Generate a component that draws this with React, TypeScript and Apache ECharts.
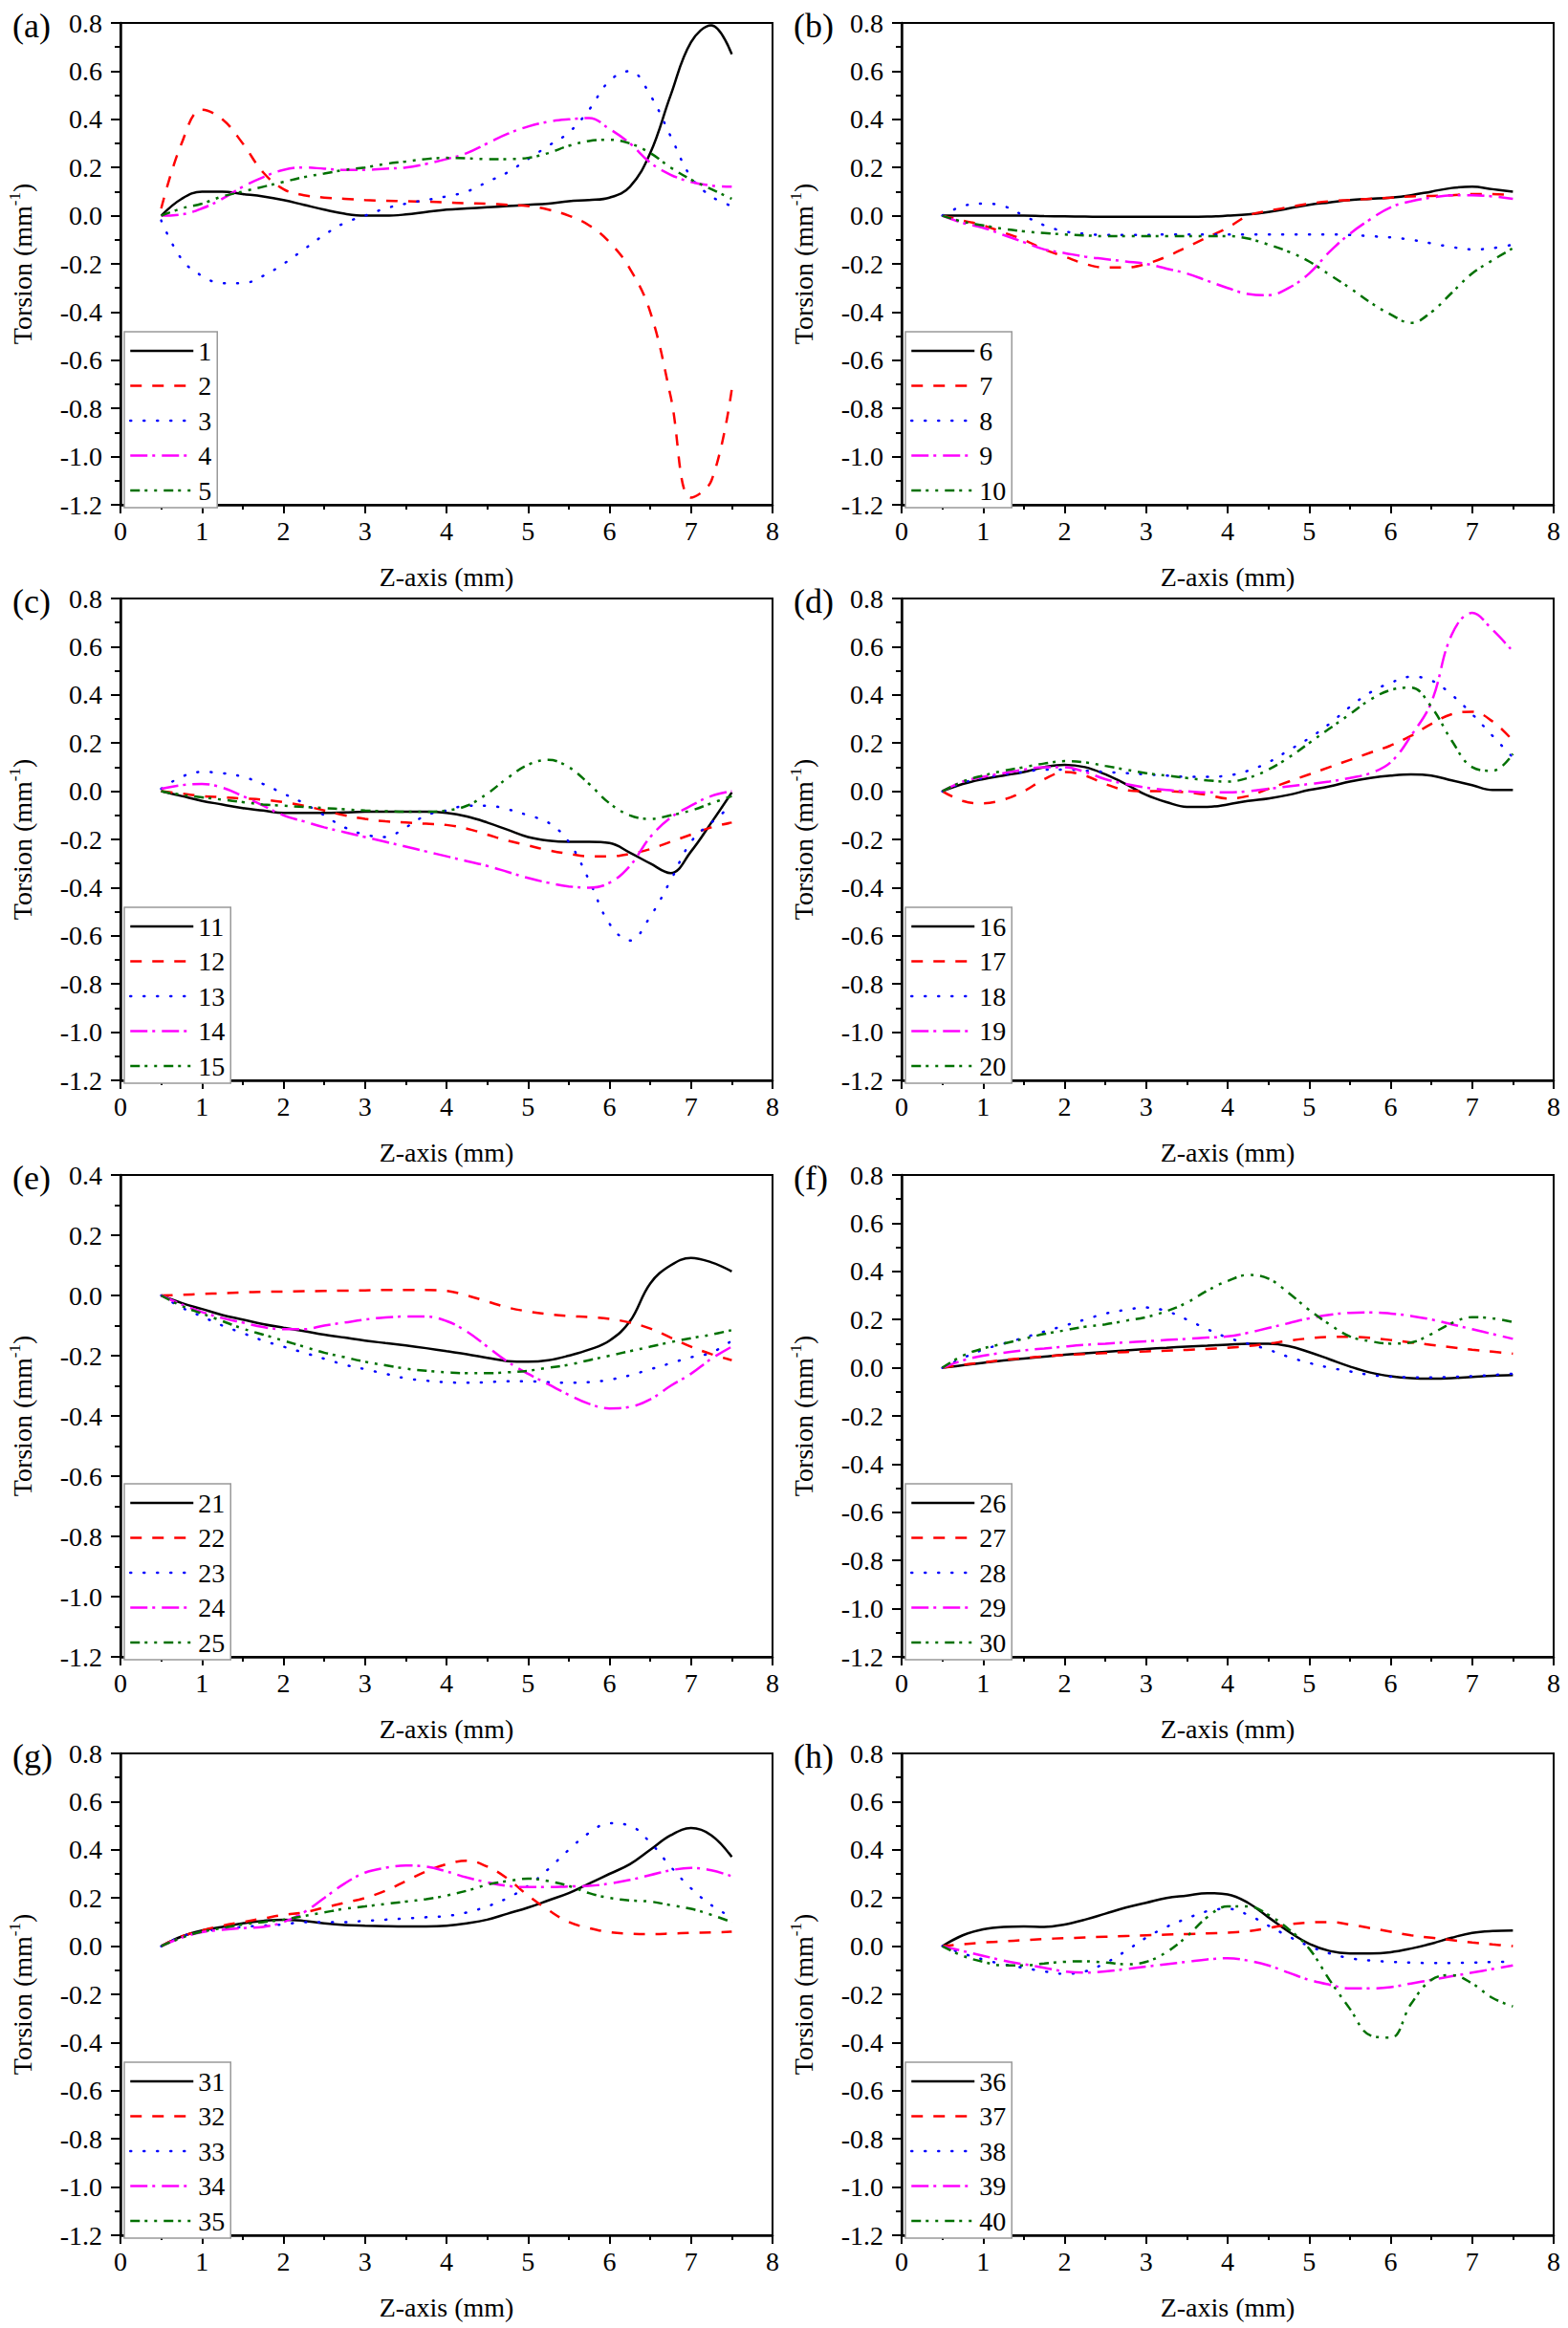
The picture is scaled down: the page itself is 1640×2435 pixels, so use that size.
import { useEffect, useRef } from 'react'
import * as echarts from 'echarts'

// Z positions (mm) at which every curve is read
const zPos = [0.5, 0.75, 1, 1.25, 1.5, 1.75, 2, 2.25, 2.5, 2.75, 3, 3.25, 3.5, 3.75, 4, 4.25, 4.5, 4.75, 5, 5.25, 5.5, 5.75, 6, 6.25, 6.5, 6.75, 7, 7.25, 7.5]

const panelLabels = ['(a)', '(b)', '(c)', '(d)', '(e)', '(f)', '(g)', '(h)']
const yMaxValues = [0.8, 0.8, 0.8, 0.8, 0.4, 0.8, 0.8, 0.8]
const xTicks = { min: 0, max: 8, interval: 1 }
const yTicks = { min: -1.2, interval: 0.2 }

// (a) curves 1-5
const curvesA = [
  [0, 0.07, 0.1, 0.1, 0.09, 0.08, 0.065, 0.045, 0.025, 0.008, 0.0, 0.0, 0.005, 0.015, 0.025, 0.03, 0.035, 0.04, 0.045, 0.05, 0.06, 0.065, 0.075, 0.12, 0.26, 0.5, 0.72, 0.79, 0.67],
  [0.03, 0.3, 0.44, 0.4, 0.3, 0.18, 0.11, 0.085, 0.075, 0.07, 0.065, 0.062, 0.06, 0.058, 0.055, 0.052, 0.05, 0.045, 0.04, 0.025, 0.0, -0.04, -0.11, -0.22, -0.4, -0.75, -1.17, -1.1, -0.72],
  [-0.02, -0.18, -0.25, -0.28, -0.28, -0.25, -0.2, -0.14, -0.08, -0.03, 0.0, 0.03, 0.05, 0.065, 0.08, 0.1, 0.14, 0.18, 0.235, 0.29, 0.345, 0.44, 0.56, 0.6, 0.5, 0.33, 0.16, 0.08, 0.04],
  [0.0, 0.005, 0.03, 0.07, 0.12, 0.16, 0.19, 0.2, 0.195, 0.19, 0.19, 0.195, 0.2, 0.215, 0.235, 0.26, 0.3, 0.34, 0.37, 0.39, 0.4, 0.405, 0.36, 0.3, 0.22, 0.17, 0.14, 0.125, 0.12],
  [0.0, 0.03, 0.05, 0.08, 0.1, 0.12, 0.14, 0.16, 0.175, 0.19, 0.2, 0.215, 0.225, 0.235, 0.24, 0.238, 0.235, 0.235, 0.24, 0.26, 0.29, 0.31, 0.315, 0.3, 0.26, 0.2, 0.15, 0.11, 0.07]
]

// (b) curves 6-10
const curvesB = [
  [0, 0, 0, 0, 0, -0.002, -0.003, -0.004, -0.005, -0.005, -0.005, -0.005, -0.005, -0.004, 0.0, 0.005, 0.015, 0.03, 0.045, 0.055, 0.065, 0.07, 0.075, 0.085, 0.1, 0.115, 0.12, 0.11, 0.1],
  [0, -0.02, -0.04, -0.07, -0.1, -0.14, -0.17, -0.2, -0.215, -0.215, -0.2, -0.17, -0.13, -0.09, -0.05, 0.0, 0.02, 0.035, 0.05, 0.06, 0.065, 0.07, 0.075, 0.08, 0.082, 0.085, 0.09, 0.09, 0.085],
  [0, 0.04, 0.05, 0.04, 0.0, -0.04, -0.065, -0.075, -0.08, -0.08, -0.08, -0.078, -0.078, -0.078, -0.078, -0.078, -0.078, -0.078, -0.078, -0.078, -0.08, -0.085, -0.09, -0.1, -0.115, -0.13, -0.14, -0.135, -0.12],
  [0, -0.03, -0.05, -0.08, -0.11, -0.14, -0.155, -0.17, -0.18, -0.19, -0.2, -0.22, -0.24, -0.27, -0.3, -0.325, -0.33, -0.3, -0.24, -0.15, -0.075, -0.015, 0.035, 0.06, 0.075, 0.085, 0.085, 0.08, 0.07],
  [0, -0.025, -0.04, -0.055, -0.065, -0.072, -0.078, -0.082, -0.085, -0.085, -0.085, -0.085, -0.085, -0.085, -0.085, -0.095, -0.12, -0.15, -0.19, -0.245, -0.3, -0.36, -0.41, -0.445, -0.4, -0.32, -0.24, -0.185, -0.135]
]

// (c) curves 11-15
const curvesC = [
  [0, -0.02, -0.04, -0.055, -0.07, -0.08, -0.09, -0.09, -0.09, -0.088, -0.085, -0.085, -0.085, -0.085, -0.09, -0.105, -0.13, -0.16, -0.19, -0.205, -0.21, -0.21, -0.215, -0.255, -0.3, -0.34, -0.25, -0.13, -0.005],
  [0, -0.01, -0.02, -0.025, -0.03, -0.035, -0.045, -0.06, -0.08, -0.1, -0.115, -0.125, -0.13, -0.135, -0.14, -0.155, -0.18, -0.205, -0.225, -0.245, -0.26, -0.27, -0.27, -0.26, -0.24, -0.21, -0.18, -0.15, -0.13],
  [0.01, 0.06, 0.08, 0.075, 0.06, 0.03, -0.01, -0.05, -0.1, -0.15, -0.18, -0.19, -0.15, -0.1, -0.08, -0.06, -0.06, -0.075, -0.1, -0.13, -0.21, -0.37, -0.55, -0.62, -0.52, -0.37, -0.21, -0.13, -0.06],
  [0.01, 0.025, 0.03, 0.015, -0.02, -0.06, -0.1, -0.125, -0.15, -0.17, -0.19, -0.21, -0.23, -0.25, -0.27, -0.29, -0.31, -0.335, -0.36, -0.38, -0.395, -0.4, -0.38, -0.31, -0.19, -0.11, -0.06, -0.02, 0.0],
  [0, -0.015, -0.025, -0.035, -0.045, -0.055, -0.06, -0.065, -0.07, -0.075, -0.08, -0.083, -0.085, -0.085, -0.08, -0.06, -0.01, 0.055, 0.11, 0.13, 0.1, 0.03, -0.05, -0.1, -0.115, -0.1, -0.08, -0.05, -0.02]
]

// (d) curves 16-20
const curvesD = [
  [0, 0.03, 0.05, 0.065, 0.08, 0.1, 0.11, 0.1, 0.07, 0.03, -0.015, -0.045, -0.065, -0.065, -0.055, -0.04, -0.03, -0.015, 0.005, 0.02, 0.04, 0.055, 0.065, 0.07, 0.065, 0.045, 0.025, 0.005, 0.005],
  [0, -0.04, -0.05, -0.035, 0.0, 0.05, 0.08, 0.065, 0.03, 0.005, 0.0, 0.0, -0.005, -0.015, -0.03, -0.02, 0.01, 0.04, 0.07, 0.1, 0.13, 0.16, 0.19, 0.23, 0.28, 0.32, 0.33, 0.29, 0.21],
  [0, 0.035, 0.055, 0.07, 0.08, 0.09, 0.09, 0.085, 0.08, 0.075, 0.07, 0.065, 0.06, 0.06, 0.065, 0.085, 0.12, 0.17, 0.22, 0.28, 0.35, 0.41, 0.45, 0.475, 0.46, 0.4, 0.32, 0.23, 0.14],
  [0, 0.04, 0.06, 0.075, 0.09, 0.1, 0.1, 0.08, 0.05, 0.03, 0.015, 0.005, 0.0, -0.005, -0.005, 0.0, 0.01, 0.02, 0.03, 0.04, 0.055, 0.075, 0.12, 0.23, 0.37, 0.65, 0.74, 0.67, 0.58],
  [0, 0.04, 0.065, 0.085, 0.1, 0.115, 0.125, 0.12, 0.105, 0.09, 0.075, 0.065, 0.055, 0.045, 0.04, 0.055, 0.09, 0.14, 0.2, 0.26, 0.32, 0.38, 0.42, 0.43, 0.35, 0.21, 0.1, 0.085, 0.155]
]

// (e) curves 21-25
const curvesE = [
  [0, -0.025, -0.045, -0.065, -0.08, -0.095, -0.107, -0.118, -0.13, -0.14, -0.15, -0.158, -0.166, -0.175, -0.185, -0.195, -0.207, -0.218, -0.22, -0.215, -0.2, -0.18, -0.15, -0.086, 0.04, 0.1, 0.125, 0.11, 0.08],
  [0, 0.002, 0.005, 0.007, 0.01, 0.012, 0.013, 0.014, 0.015, 0.016, 0.017, 0.018, 0.018, 0.018, 0.015, 0.0, -0.02, -0.04, -0.053, -0.062, -0.068, -0.072, -0.078, -0.09, -0.11, -0.14, -0.17, -0.195, -0.215],
  [0, -0.04, -0.07, -0.1, -0.125, -0.15, -0.17, -0.19, -0.21, -0.23, -0.245, -0.26, -0.275, -0.283, -0.288, -0.29, -0.288, -0.285, -0.285, -0.288, -0.29, -0.288, -0.28, -0.265, -0.245, -0.225, -0.205, -0.19, -0.15],
  [0, -0.03, -0.055, -0.075, -0.09, -0.105, -0.112, -0.112, -0.1, -0.09, -0.08, -0.073, -0.07, -0.07, -0.085, -0.12, -0.17, -0.22, -0.26, -0.295, -0.33, -0.36, -0.375, -0.37, -0.345, -0.3, -0.26, -0.21, -0.17],
  [0, -0.035, -0.06, -0.085, -0.11, -0.13, -0.15, -0.17, -0.19, -0.205, -0.22, -0.232, -0.243, -0.25, -0.255, -0.258, -0.258, -0.255, -0.25, -0.24, -0.23, -0.215, -0.2, -0.185, -0.17, -0.155, -0.142, -0.13, -0.115]
]

// (f) curves 26-30
const curvesF = [
  [0, 0.01, 0.02, 0.03, 0.038, 0.046, 0.054, 0.06, 0.066, 0.072, 0.078, 0.083, 0.088, 0.092, 0.096, 0.1, 0.1, 0.09, 0.065, 0.035, 0.005, -0.02, -0.035, -0.043, -0.045, -0.043, -0.038, -0.033, -0.03],
  [0, 0.012, 0.022, 0.032, 0.04, 0.047, 0.053, 0.057, 0.061, 0.065, 0.068, 0.071, 0.074, 0.078, 0.083, 0.09, 0.1, 0.112, 0.122, 0.128, 0.128, 0.124, 0.115, 0.105, 0.095, 0.085, 0.075, 0.067, 0.058],
  [0, 0.04, 0.075, 0.1, 0.125, 0.15, 0.175, 0.2, 0.225, 0.24, 0.25, 0.235, 0.2, 0.16, 0.125, 0.1, 0.075, 0.045, 0.02, 0.0, -0.015, -0.03, -0.037, -0.04, -0.04, -0.038, -0.035, -0.03, -0.025],
  [0, 0.03, 0.05, 0.062, 0.072, 0.08, 0.088, 0.095, 0.1, 0.105, 0.11, 0.115, 0.12, 0.125, 0.13, 0.145, 0.165, 0.185, 0.205, 0.22, 0.228, 0.23, 0.225, 0.215, 0.2, 0.18, 0.16, 0.14, 0.12],
  [0, 0.05, 0.08, 0.1, 0.12, 0.14, 0.155, 0.17, 0.18, 0.195, 0.21, 0.235, 0.27, 0.32, 0.36, 0.385, 0.37, 0.31, 0.24, 0.18, 0.13, 0.11, 0.1, 0.105, 0.14, 0.185, 0.21, 0.205, 0.19]
]

// (g) curves 31-35
const curvesG = [
  [0, 0.04, 0.065, 0.08, 0.095, 0.105, 0.11, 0.105, 0.095, 0.088, 0.085, 0.083, 0.082, 0.082, 0.085, 0.095, 0.11, 0.135, 0.16, 0.19, 0.22, 0.26, 0.3, 0.34, 0.4, 0.46, 0.49, 0.46, 0.37],
  [0, 0.04, 0.065, 0.085, 0.1, 0.115, 0.13, 0.14, 0.16, 0.18, 0.2, 0.23, 0.27, 0.31, 0.34, 0.355, 0.33, 0.28, 0.21, 0.15, 0.1, 0.075, 0.058, 0.052, 0.05, 0.052, 0.055, 0.057, 0.06],
  [0, 0.04, 0.06, 0.07, 0.08, 0.085, 0.09, 0.1, 0.1, 0.1, 0.105, 0.11, 0.115, 0.12, 0.125, 0.14, 0.165, 0.2, 0.25, 0.32, 0.4, 0.47, 0.51, 0.5, 0.43, 0.33, 0.24, 0.17, 0.12],
  [0, 0.035, 0.058, 0.068, 0.075, 0.08, 0.1, 0.14, 0.2, 0.26, 0.305, 0.325, 0.335, 0.33, 0.31, 0.285, 0.265, 0.25, 0.245, 0.245, 0.248, 0.25, 0.26, 0.275, 0.295, 0.315, 0.325, 0.315, 0.29],
  [0, 0.035, 0.06, 0.075, 0.09, 0.1, 0.11, 0.125, 0.14, 0.155, 0.165, 0.175, 0.185, 0.195, 0.21, 0.23, 0.255, 0.27, 0.28, 0.27, 0.25, 0.22, 0.2, 0.19, 0.185, 0.17, 0.155, 0.13, 0.1]
]

// (h) curves 36-40
const curvesH = [
  [0, 0.045, 0.07, 0.08, 0.082, 0.08, 0.09, 0.11, 0.135, 0.16, 0.18, 0.2, 0.21, 0.22, 0.215, 0.18, 0.12, 0.06, 0.01, -0.02, -0.03, -0.03, -0.025, -0.01, 0.01, 0.035, 0.055, 0.063, 0.065],
  [0, 0.008, 0.015, 0.02, 0.025, 0.03, 0.033, 0.036, 0.039, 0.042, 0.045, 0.048, 0.05, 0.053, 0.056, 0.062, 0.075, 0.09, 0.098, 0.1, 0.09, 0.075, 0.06, 0.045, 0.035, 0.025, 0.015, 0.007, 0.0],
  [0, -0.03, -0.055, -0.075, -0.09, -0.105, -0.115, -0.105, -0.07, -0.02, 0.035, 0.08, 0.115, 0.145, 0.155, 0.13, 0.085, 0.04, 0.0, -0.03, -0.05, -0.06, -0.065, -0.068, -0.07, -0.07, -0.068, -0.066, -0.065],
  [0, -0.02, -0.04, -0.06, -0.075, -0.09, -0.105, -0.11, -0.105, -0.095, -0.085, -0.075, -0.065, -0.055, -0.05, -0.06, -0.08, -0.11, -0.14, -0.16, -0.175, -0.175, -0.17, -0.155, -0.14, -0.125, -0.11, -0.095, -0.08],
  [0, -0.04, -0.065, -0.08, -0.08, -0.072, -0.065, -0.063, -0.068, -0.075, -0.065, -0.025, 0.04, 0.12, 0.165, 0.165, 0.13, 0.07, -0.01, -0.14, -0.26, -0.37, -0.38, -0.24, -0.14, -0.12, -0.155, -0.215, -0.25]
]

const panels = [curvesA, curvesB, curvesC, curvesD, curvesE, curvesF, curvesG, curvesH]

const FONT = 'Liberation Serif'

// Origin style line set: solid, dash, dot, dash-dot, dash-dot-dot
const lineStyles = [
  { color: '#000000', type: 'solid' as any, cap: 'butt' },
  { color: '#ff0000', type: [12, 11], cap: 'butt' },
  { color: '#0000ff', type: [1, 13], cap: 'round' },
  { color: '#ff00ff', type: [18, 5, 3, 7], cap: 'butt' },
  { color: '#007000', type: [10, 5, 3, 7, 3, 7], cap: 'butt' }
]

const colLeft = [126, 943]
const rowTop = [24, 626, 1229, 1834]
const gridW = 682
const gridH = 504

const fmtTick = (v: number) => (Math.abs(v) < 1e-9 ? '0.0' : v.toFixed(1))

const App: React.FC = () => {
  const chartRef = useRef<HTMLDivElement>(null)

  useEffect(() => {
    if (!chartRef.current) return
    const chart = echarts.init(chartRef.current, undefined, { renderer: 'svg' })

    const grids: any[] = []
    const xAxes: any[] = []
    const yAxes: any[] = []
    const legends: any[] = []
    const series: any[] = []
    const graphics: any[] = []

    panels.forEach((curves, p) => {
      const left = colLeft[p % 2]
      const top = rowTop[Math.floor(p / 2)]

      grids.push({
        left,
        top,
        width: gridW,
        height: gridH,
        show: true,
        borderColor: '#000',
        borderWidth: 2,
        backgroundColor: 'transparent'
      })

      xAxes.push({
        type: 'value',
        gridIndex: p,
        min: xTicks.min,
        max: xTicks.max,
        interval: xTicks.interval,
        name: 'Z-axis (mm)',
        nameLocation: 'middle',
        nameGap: 61,
        nameTextStyle: { fontFamily: FONT, fontSize: 28, color: '#000' },
        axisLine: { show: true, onZero: false, lineStyle: { color: '#000', width: 2.5 } },
        axisTick: { show: true, inside: false, length: 9, lineStyle: { color: '#000', width: 2 } },
        minorTick: { show: true, splitNumber: 2, length: 5, lineStyle: { color: '#000', width: 2 } },
        splitLine: { show: false },
        axisLabel: { fontFamily: FONT, fontSize: 28, color: '#000', margin: 13 }
      })

      yAxes.push({
        type: 'value',
        gridIndex: p,
        min: yTicks.min,
        max: yMaxValues[p],
        interval: yTicks.interval,
        name: '{t|Torsion (mm}{s|-1}{t|)}',
        nameLocation: 'middle',
        nameGap: 87,
        nameTextStyle: {
          fontFamily: FONT,
          fontSize: 28,
          color: '#000',
          rich: {
            t: { fontFamily: FONT, fontSize: 28, lineHeight: 32, color: '#000' },
            s: { fontFamily: FONT, fontSize: 17, lineHeight: 17, verticalAlign: 'top', color: '#000' }
          }
        },
        axisLine: { show: true, onZero: false, lineStyle: { color: '#000', width: 2.5 } },
        axisTick: { show: true, inside: false, length: 10, lineStyle: { color: '#000', width: 2 } },
        minorTick: { show: true, splitNumber: 2, length: 6, lineStyle: { color: '#000', width: 2 } },
        splitLine: { show: false },
        axisLabel: { fontFamily: FONT, fontSize: 28, color: '#000', margin: 19, formatter: fmtTick }
      })

      const names = curves.map((_, k) => String(p * 5 + k + 1))

      legends.push({
        orient: 'vertical',
        left: left + 4,
        top: top + 323,
        data: names,
        itemWidth: 66,
        itemHeight: 26,
        itemGap: 8.5,
        padding: [6, 6, 4, 5],
        borderColor: '#999',
        borderWidth: 1.5,
        borderRadius: 0,
        backgroundColor: '#fff',
        selectedMode: false,
        // hide the marker symbol, keep only the line sample
        itemStyle: { opacity: 0 },
        lineStyle: { width: 2.5, opacity: 1 },
        textStyle: { fontFamily: FONT, fontSize: 28, color: '#000' }
      })

      curves.forEach((vals, k) => {
        const ls = lineStyles[k]
        series.push({
          type: 'line',
          name: names[k],
          xAxisIndex: p,
          yAxisIndex: p,
          data: vals.map((v, i) => [zPos[i], v]),
          smooth: 0.4,
          symbol: 'none',
          itemStyle: { color: ls.color },
          lineStyle: { color: ls.color, width: 2.5, type: ls.type, cap: ls.cap }
        })
      })

      graphics.push({
        type: 'text',
        left: left - 113,
        top: top - 15,
        style: { text: panelLabels[p], fontFamily: FONT, fontSize: 36, fill: '#000' }
      })
    })

    chart.setOption({
      animation: false,
      backgroundColor: '#fff',
      textStyle: { fontFamily: FONT },
      grid: grids,
      xAxis: xAxes,
      yAxis: yAxes,
      legend: legends,
      series,
      graphic: graphics
    })

    return () => {
      chart.dispose()
    }
  }, [])

  return (
    <div
      ref={chartRef}
      style={{ position: 'absolute', left: 0, top: 0, width: '1640px', height: '2435px', background: '#fff' }}
    />
  )
}

export default App
